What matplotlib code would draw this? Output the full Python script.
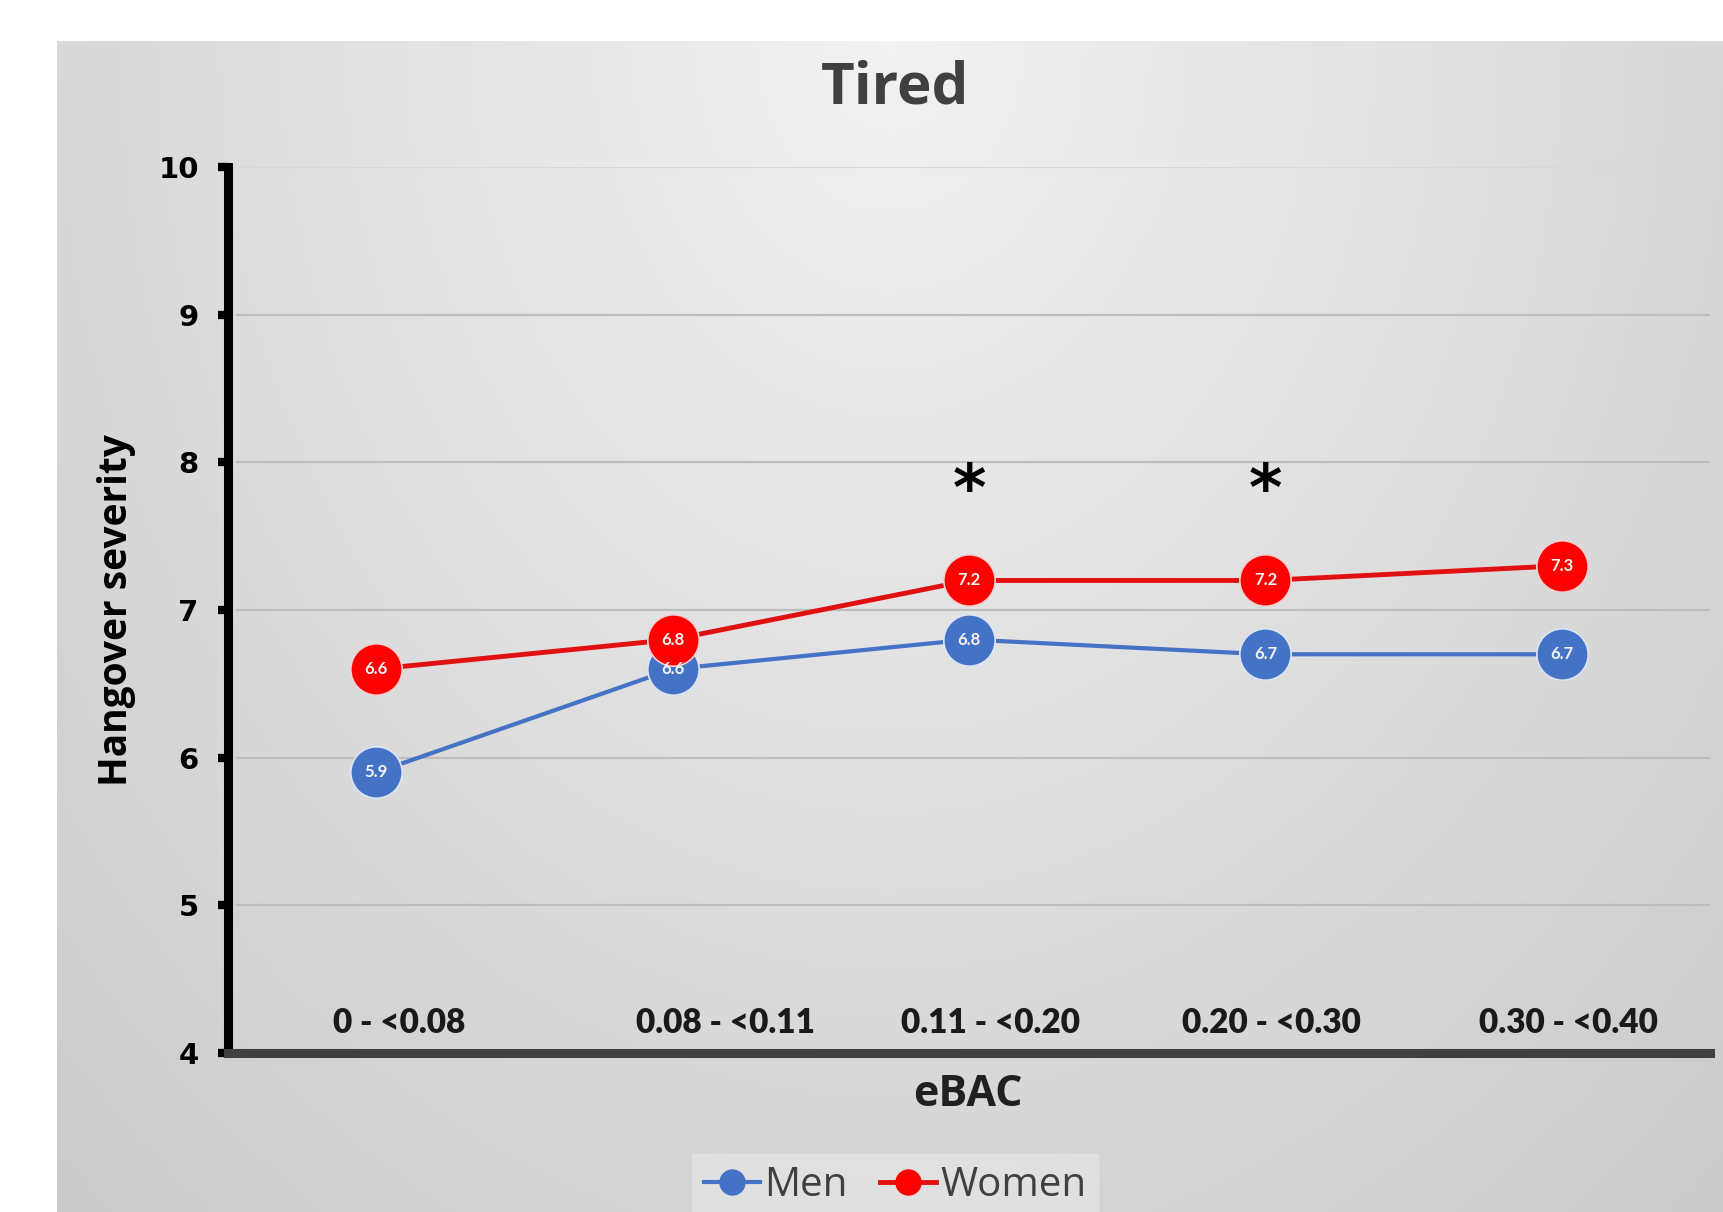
import numpy as np
import matplotlib.pyplot as plt
from matplotlib.lines import Line2D

categories = ["0 - <0.08", "0.08 - <0.11", "0.11 - <0.20", "0.20 - <0.30", "0.30 - <0.40"]
men = [5.9, 6.6, 6.8, 6.7, 6.7]
women = [6.6, 6.8, 7.2, 7.2, 7.3]
significant = [2, 3]

BLUE = "#4472C4"
RED = "#FF0000"

fig = plt.figure(figsize=(17.24, 12.12), dpi=100, facecolor="white")

# gradient background panel
bg = fig.add_axes([57 / 1724, 0, 1 - 57 / 1724, 1 - 41 / 1212])
bg.set_axis_off()
gx, gy = np.meshgrid(np.linspace(-1, 1, 400), np.linspace(0, 1, 300))
r = np.sqrt((gx * 0.9) ** 2 + (gy * 1.0) ** 2)
shade = 0.95 - 0.16 * np.clip(r, 0, 1.4) / 1.4
bg.imshow(np.dstack([shade] * 3), aspect="auto", extent=[0, 1, 0, 1], origin="upper")

ax = fig.add_axes([228 / 1724, 1 - 1053 / 1212, (1710 - 228) / 1724, (1053 - 167) / 1212])
ax.patch.set_alpha(0)
x = np.arange(len(categories))

ax.set_xlim(-0.5, 4.5)
ax.set_ylim(4, 10)
ax.set_yticks(range(4, 11))
ax.set_yticklabels([str(v) for v in range(4, 11)], fontsize=21, fontweight="bold",
                   family="DejaVu Sans")
ax.tick_params(axis="y", length=7, width=6, color="black", pad=14)
ax.set_xticks([])
for v in range(5, 11):
    ax.axhline(v, xmin=0.006, color="#bdbdbd" if v < 10 else "#d8d8d8", lw=1.6, zorder=1)

for s in ["top", "right"]:
    ax.spines[s].set_visible(False)
ax.spines["left"].set_linewidth(6.5)
ax.spines["left"].set_color("black")
ax.spines["bottom"].set_linewidth(6.5)
ax.spines["bottom"].set_color("#404040")
ax.spines["bottom"].set_zorder(5)

ax.plot(x, men, color=BLUE, lw=3, marker="o", ms=37, mfc=BLUE, mec="#dde6f5", mew=1.2, zorder=3)
ax.plot(x, women, color="#E01010", lw=3.5, marker="o", ms=37, mfc=RED, mec="#f5d0d0", mew=1.2, zorder=4)

for xi, m, w in zip(x, men, women):
    ax.text(xi, m, f"{m:.1f}", color="#f4f4f4", fontsize=12, fontweight="bold",
            ha="center", va="center", family="Lato", zorder=6)
    ax.text(xi, w, f"{w:.1f}", color="#f4f4f4", fontsize=12, fontweight="bold",
            ha="center", va="center", family="Lato", zorder=6)

for i in significant:
    ax.text(i, 7.8, "*", fontsize=46, fontweight="bold", ha="center", va="center",
            color="black", family="DejaVu Sans")

label_shift = [0.078, 0.18, 0.074, 0.02, 0.024]
for xi, lab, dx in zip(x, categories, label_shift):
    ax.text(xi + dx, 4.2, lab, fontsize=24, fontweight="heavy", ha="center", va="center",
            color="#1a1a1a", family="Lato")

ax.set_ylabel("Hangover severity", fontsize=28, fontweight="bold", family="Open Sans",
              labelpad=16)
fig.text(968 / 1724, 1 - 1094 / 1212, "eBAC", fontsize=31, fontweight="bold",
         ha="center", va="center", family="Open Sans", color="#202020")
fig.text(895 / 1724, 1 - 88 / 1212, "Tired", fontsize=42, ha="center", va="center",
         family="Open Sans", color="#404040", fontweight="bold")

handles = [
    Line2D([], [], color=BLUE, lw=3, marker="o", ms=18, mfc=BLUE, mec=BLUE),
    Line2D([], [], color="#E01010", lw=3.5, marker="o", ms=18, mfc=RED, mec=RED),
]
leg = fig.legend(handles, ["Men", "Women"], loc="center", bbox_to_anchor=(895 / 1724, 1 - 1186 / 1212),
                 ncol=2, frameon=True, fancybox=False, handlelength=1.4,
                 handletextpad=0.1, columnspacing=0.8, borderpad=0.3,
                 prop={"family": "Open Sans", "size": 29})
leg.get_frame().set_facecolor("#e4e4e4")
leg.get_frame().set_edgecolor("#e4e4e4")
for t in leg.get_texts():
    t.set_color("#404040")

fig.savefig("out.png", dpi=100, facecolor="white")
